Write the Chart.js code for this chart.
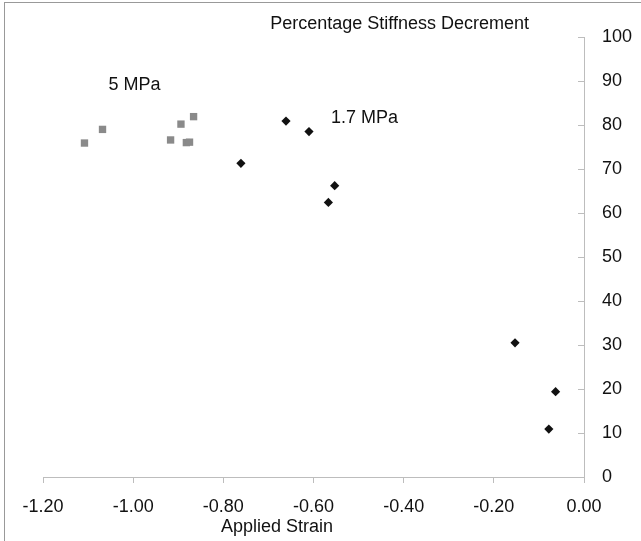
<!DOCTYPE html>
<html>
<head>
<meta charset="utf-8">
<script src="https://cdn.jsdelivr.net/npm/chart.js@4"></script>
<style>
  html, body { margin: 0; padding: 0; background: #fff; overflow: hidden; }
  #wrap { position: relative; width: 641px; height: 541px; }
  #frame { position: absolute; left: 4px; top: 2px; width: 700px; height: 600px; border-left: 1px solid #999; border-top: 1px solid #999; pointer-events: none; }
</style>
</head>
<body>
<div id="wrap">
  <canvas id="myChart" width="641" height="541"></canvas>
  <div id="frame"></div>
</div>
<script>
// 5 MPa series (grey squares)
const strain5 = [-1.108, -1.068, -0.917, -0.894, -0.866, -0.882, -0.875];
const stiff5 = [75.9, 79.0, 76.6, 80.2, 81.9, 76.0, 76.1];

// 1.7 MPa series (black diamonds)
const strain17 = [-0.661, -0.610, -0.761, -0.553, -0.567, -0.153, -0.063, -0.078];
const stiff17 = [80.9, 78.5, 71.3, 66.2, 62.4, 30.5, 19.4, 10.9];

const xTicks = [-1.2, -1.0, -0.8, -0.6, -0.4, -0.2, 0];
const yTicks = [0, 10, 20, 30, 40, 50, 60, 70, 80, 90, 100];

const titleText = "Percentage Stiffness Decrement";
const xTitle = "Applied Strain";

const font = "Liberation Sans, Arial, sans-serif";

const pts = (xs, ys) => xs.map((x, i) => ({ x: x, y: ys[i] }));

// texts drawn on top: titles, series labels and inward y tick marks
const textPlugin = {
  id: "texts",
  afterDraw(chart) {
    const c = chart.ctx;
    const xs = chart.scales.x, ys = chart.scales.y;
    const area = chart.chartArea;
    c.save();
    c.strokeStyle = "#bdbdbd";
    c.lineWidth = 1;
    yTicks.forEach(v => {
      const py = Math.round(ys.getPixelForValue(v)) + 0.5;
      c.beginPath();
      c.moveTo(area.right - 6, py);
      c.lineTo(area.right, py);
      c.stroke();
    });
    c.fillStyle = "#111";
    c.font = "18px " + font;
    c.textAlign = "center";
    c.textBaseline = "middle";
    c.fillText(titleText, xs.getPixelForValue(-0.409), 24);
    c.fillText(xTitle, xs.getPixelForValue(-0.681), 527);
    c.fillText("5 MPa", xs.getPixelForValue(-0.997), ys.getPixelForValue(89.1));
    c.fillText("1.7 MPa", xs.getPixelForValue(-0.487), ys.getPixelForValue(81.6));
    c.restore();
  }
};

const ctx = document.getElementById("myChart").getContext("2d");

const myChart = new Chart(ctx, {
  type: "scatter",
  data: {
    datasets: [
      {
        label: "5 MPa",
        data: pts(strain5, stiff5),
        pointStyle: "rect",
        pointRadius: 5.2,
        backgroundColor: "#8a8a8a",
        borderColor: "#8a8a8a",
        borderWidth: 0
      },
      {
        label: "1.7 MPa",
        data: pts(strain17, stiff17),
        pointStyle: "rectRot",
        pointRadius: 4.6,
        backgroundColor: "#111",
        borderColor: "#111",
        borderWidth: 0
      }
    ]
  },
  options: {
    responsive: false,
    animation: false,
    layout: { padding: { left: 43, top: 37, right: 0, bottom: 0 } },
    plugins: {
      legend: { display: false },
      tooltip: { enabled: false }
    },
    scales: {
      x: {
        type: "linear",
        min: -1.2,
        max: 0,
        afterBuildTicks: s => { s.ticks = xTicks.map(v => ({ value: v })); },
        afterFit: s => { s.height = 64; },
        ticks: {
          color: "#111",
          font: { family: font, size: 18 },
          padding: 13,
          maxRotation: 0,
          callback: v => Number(v).toFixed(2)
        },
        grid: { drawOnChartArea: false, drawTicks: true, tickLength: 6, color: "#bdbdbd" },
        border: { color: "#bdbdbd" }
      },
      y: {
        type: "linear",
        position: "right",
        min: 0,
        max: 100,
        afterBuildTicks: s => { s.ticks = yTicks.map(v => ({ value: v })); },
        afterFit: s => { s.width = 57; },
        ticks: {
          color: "#111",
          font: { family: font, size: 18 },
          padding: 18
        },
        grid: { drawOnChartArea: false, drawTicks: false },
        border: { color: "#bdbdbd" }
      }
    }
  },
  plugins: [textPlugin]
});
</script>
</body>
</html>
